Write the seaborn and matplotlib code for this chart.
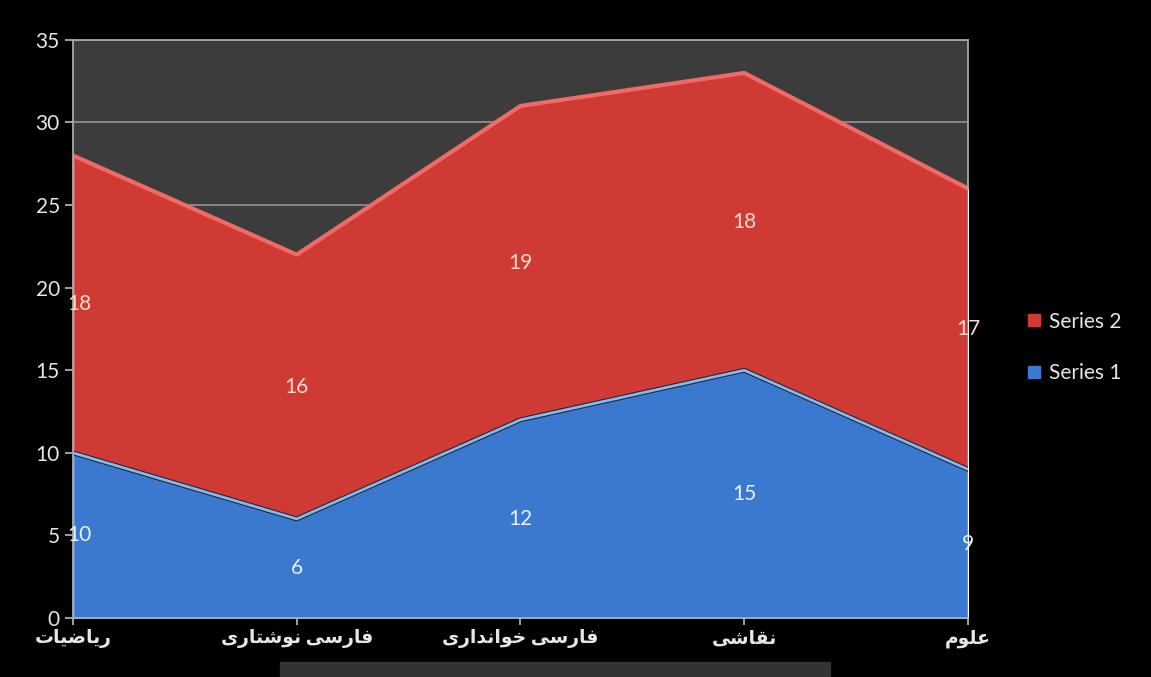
import matplotlib
matplotlib.use('Agg')
import matplotlib.pyplot as plt
import seaborn as sns
import pandas as pd
import numpy as np

categories = ['ریاضیات', 'فارسی نوشتاری', 'فارسی خوانداری', 'نقاشی', 'علوم']
series1 = [10, 6, 12, 15, 9]
series2 = [18, 16, 19, 18, 17]
yticks = [0, 5, 10, 15, 20, 25, 30, 35]

# minimal Persian shaping (matplotlib draws left-to-right without joining)
FORMS = {
    'ا': ('\uFE8D', '\uFE8E', None, None),
    'ر': ('\uFEAD', '\uFEAE', None, None),
    'د': ('\uFEA9', '\uFEAA', None, None),
    'و': ('\uFEED', '\uFEEE', None, None),
    'ی': ('\uFEEF', '\uFEF0', '\uFEF3', '\uFEF4'),
    'ض': ('\uFEBD', '\uFEBE', '\uFEBF', '\uFEC0'),
    'ت': ('\uFE95', '\uFE96', '\uFE97', '\uFE98'),
    'ف': ('\uFED1', '\uFED2', '\uFED3', '\uFED4'),
    'س': ('\uFEB1', '\uFEB2', '\uFEB3', '\uFEB4'),
    'ن': ('\uFEE5', '\uFEE6', '\uFEE7', '\uFEE8'),
    'ش': ('\uFEB5', '\uFEB6', '\uFEB7', '\uFEB8'),
    'خ': ('\uFEA5', '\uFEA6', '\uFEA7', '\uFEA8'),
    'ق': ('\uFED5', '\uFED6', '\uFED7', '\uFED8'),
    'ع': ('\uFEC9', '\uFECA', '\uFECB', '\uFECC'),
    'ل': ('\uFEDD', '\uFEDE', '\uFEDF', '\uFEE0'),
    'م': ('\uFEE1', '\uFEE2', '\uFEE3', '\uFEE4'),
}


def shape(word):
    out = []
    for i, ch in enumerate(word):
        if ch not in FORMS:
            out.append(ch)
            continue
        prev = word[i - 1] if i > 0 else ' '
        nxt = word[i + 1] if i < len(word) - 1 else ' '
        jp = prev in FORMS and FORMS[prev][2] is not None
        jn = FORMS[ch][2] is not None and nxt in FORMS
        iso, fin, ini, med = FORMS[ch]
        if jp and jn:
            out.append(med)
        elif jp:
            out.append(fin)
        elif jn:
            out.append(ini)
        else:
            out.append(iso)
    return ''.join(out)[::-1]


df = pd.DataFrame({'x': range(len(categories)), 's1': series1, 's2': series2})
df['top'] = df['s1'] + df['s2']

sns.set_style('dark')
plt.rcParams['font.family'] = ['Lato', 'DejaVu Sans']

fig = plt.figure(figsize=(11.51, 6.77), dpi=100, facecolor='black')
ax = fig.add_axes([0.0634, 0.0871, 0.7776, 0.854])
ax.set_facecolor('#3c3c3c')

red = '#d03a35'
blue = '#3a79cf'
ax.stackplot(df['x'], df['s1'], df['s2'], colors=[blue, red], zorder=1)
sns.lineplot(x=df['x'], y=df['top'], ax=ax, color='#f06a66', lw=3, zorder=2)
sns.lineplot(x=df['x'], y=df['s1'], ax=ax, color='#2a1e26', lw=3.5, zorder=2)
sns.lineplot(x=df['x'], y=df['s1'], ax=ax, color='#7cbcf2', lw=2, zorder=2)

ax.set_xlim(0, len(categories) - 1)
ax.set_ylim(0, 35)
ax.set_yticks(yticks)
ax.set_xticks(df['x'])
ax.set_xticklabels([shape(c) for c in categories], fontweight='bold')
ax.grid(axis='y', color='#8c8c8c', lw=1.3, zorder=0)
ax.grid(axis='x', visible=False)
ax.set_axisbelow(True)
ax.set_xlabel('')
ax.set_ylabel('')
ax.tick_params(axis='both', colors='#bdbdbd', labelcolor='#e6e6e6',
               labelsize=15, length=6, width=1.2, direction='out',
               bottom=True, left=True)
ax.tick_params(axis='x', labelsize=13.5, pad=3, length=5)
for side, sp in ax.spines.items():
    sp.set_visible(True)
    sp.set_color('#a8a8a8')
    sp.set_linewidth(1.3)
ax.spines['right'].set_bounds(df['top'].iloc[-1], 35)

for i in range(len(categories)):
    dx = 0.03 if i == 0 else 0
    ax.text(i + dx, series1[i] / 2, str(series1[i]), color='#e8f2ff',
            ha='center', va='center', fontsize=15, zorder=3)
    ax.text(i + dx, series1[i] + series2[i] / 2, str(series2[i]), color='#f6dccd',
            ha='center', va='center', fontsize=15, zorder=3)

handles = [plt.Line2D([], [], marker='s', ls='', color=red, markersize=8),
           plt.Line2D([], [], marker='s', ls='', color=blue, markersize=8)]
leg = fig.legend(handles, ['Series 2', 'Series 1'], loc='center left',
                 bbox_to_anchor=(0.882, 0.487), frameon=False, fontsize=15,
                 labelcolor='#e6e6e6', handlelength=0.8, handletextpad=0.3,
                 labelspacing=1.5, borderpad=0)

fig.patches.append(plt.Rectangle((280 / 1151, 0), 550 / 1151, 15 / 677,
                                 transform=fig.transFigure, color='#333333'))

fig.savefig('out.png', dpi=100, facecolor='black')
